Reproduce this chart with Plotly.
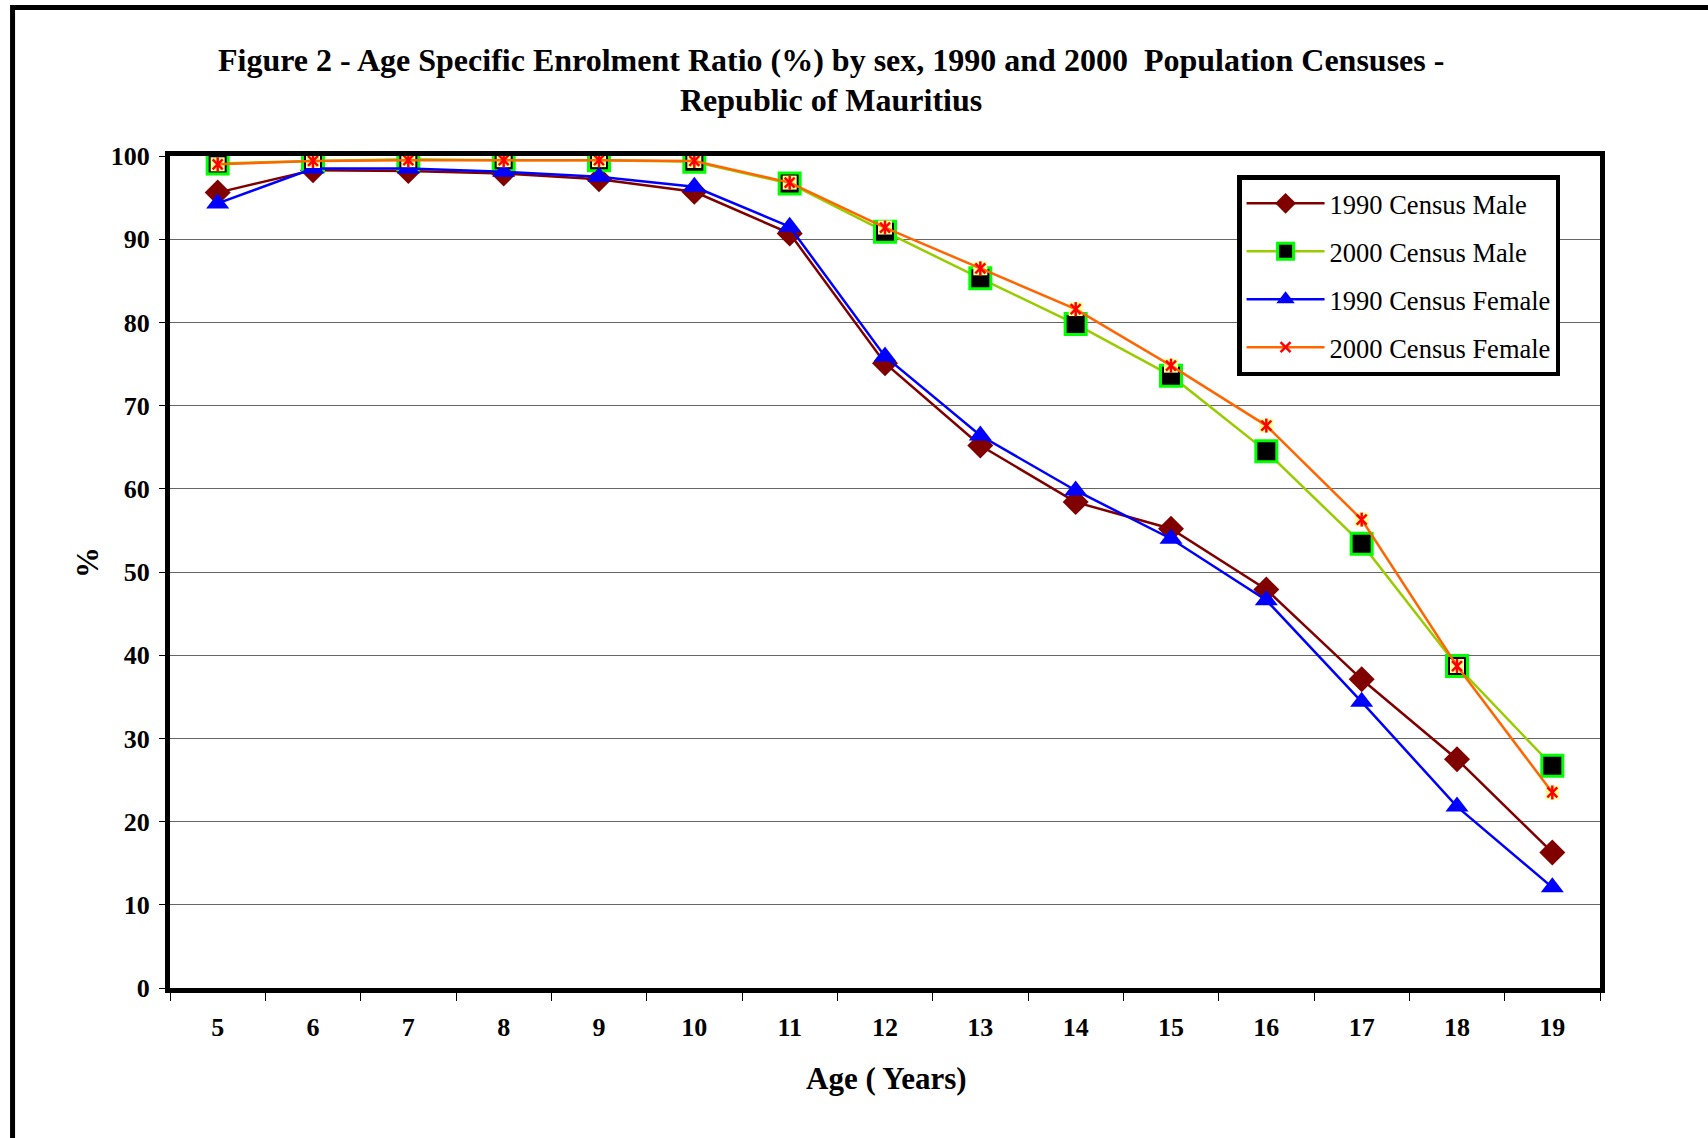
import plotly.graph_objects as go

# ---------------- data ----------------
ages = ["5", "6", "7", "8", "9", "10", "11", "12", "13", "14", "15", "16", "17", "18", "19"]
male_1990 = [95.6, 98.3, 98.2, 97.9, 97.2, 95.7, 90.7, 75.1, 65.2, 58.4, 55.2, 47.9, 37.1, 27.5, 16.3]
male_2000 = [99.1, 99.4, 99.6, 99.5, 99.5, 99.3, 96.7, 90.9, 85.3, 79.8, 73.6, 64.5, 53.4, 38.7, 26.7]
female_1990 = [94.3, 98.5, 98.5, 98.1, 97.5, 96.3, 91.5, 75.9, 66.4, 59.8, 54.0, 46.6, 34.4, 21.8, 12.1]
female_2000 = [99.0, 99.4, 99.5, 99.5, 99.5, 99.4, 96.8, 91.4, 86.5, 81.6, 74.8, 67.6, 56.3, 38.7, 23.5]

series_names = ["1990 Census Male", "2000 Census Male", "1990 Census Female", "2000 Census Female"]
title_line1 = "Figure 2 - Age Specific Enrolment Ratio (%) by sex, 1990 and 2000  Population Censuses -"
title_line2 = "Republic of Mauritius"
x_title = "Age ( Years)"
y_title = "%"

FONT = "Liberation Serif, Times New Roman, serif"

fig = go.Figure()

fig.add_trace(go.Scatter(
    x=ages, y=male_1990, name=series_names[0], mode="lines+markers", legendgroup="g1",
    line=dict(color="#800000", width=2.5),
    marker=dict(symbol="diamond", size=20, color="#800000", line=dict(width=0)),
))
fig.add_trace(go.Scatter(
    x=ages, y=male_2000, name=series_names[1], mode="lines+markers", legendgroup="g2",
    line=dict(color="#99CC00", width=2.5),
    marker=dict(symbol="square", size=21, color="#000000", line=dict(color="#00FF00", width=3)),
))
fig.add_trace(go.Scatter(
    x=ages, y=female_1990, name=series_names[2], mode="lines+markers", legendgroup="g3",
    line=dict(color="#0000FF", width=2.5),
    marker=dict(symbol="triangle-up", size=20, color="#0000FF", line=dict(width=0)),
))
# pale yellow box behind the asterisk markers
fig.add_trace(go.Scatter(
    x=ages, y=female_2000, mode="markers", legendgroup="g4", showlegend=False, hoverinfo="skip",
    marker=dict(symbol="square", size=14, color="#FFFF99", line=dict(width=0)),
))
fig.add_trace(go.Scatter(
    x=ages, y=female_2000, name=series_names[3], mode="lines+markers", legendgroup="g4",
    line=dict(color="#FF6600", width=2.5),
    marker=dict(symbol="x-thin-open", size=10, color="#FF0000", line=dict(color="#FF0000", width=2.5)),
))
fig.add_trace(go.Scatter(
    x=ages, y=female_2000, mode="markers", legendgroup="g4", showlegend=False, hoverinfo="skip",
    marker=dict(symbol="line-ns-open", size=10, color="#FF0000", line=dict(color="#FF0000", width=2.5)),
))

fig.update_layout(
    width=1708, height=1138,
    margin=dict(l=170, r=108, t=156, b=150, pad=0),
    paper_bgcolor="white", plot_bgcolor="white",
    font=dict(family=FONT, color="black"),
    showlegend=True,
    legend=dict(
        x=0.7462, y=0.9770, xanchor="left", yanchor="top",
        bgcolor="white", bordercolor="black", borderwidth=4.5,
        font=dict(family=FONT, size=26.5, color="black"),
        traceorder="grouped", tracegroupgap=10.5, itemwidth=78,
    ),
    xaxis=dict(
        type="category", range=[-0.5, 14.5], tickson="boundaries",
        ticks="outside", ticklen=8, tickwidth=1, tickcolor="black",
        showline=True, linecolor="black", linewidth=5, mirror=True,
        showgrid=False, zeroline=False,
        tickfont=dict(family=FONT, size=26, color="black", weight="bold"),
        ticklabelstandoff=12,
    ),
    yaxis=dict(
        range=[0, 100], tick0=0, dtick=10,
        ticks="outside", ticklen=6, tickwidth=1, tickcolor="black",
        showline=True, linecolor="black", linewidth=5, mirror=True,
        showgrid=True, gridcolor="#666666", gridwidth=1, zeroline=False,
        tickfont=dict(family=FONT, size=26, color="black", weight="bold"),
        ticklabelstandoff=4,
    ),
    annotations=[
        dict(text="<b>" + title_line1 + "</b>", xref="paper", yref="paper", x=0.4622, y=1.1150,
             xanchor="center", yanchor="middle", showarrow=False,
             font=dict(family=FONT, size=32, color="black")),
        dict(text="<b>" + title_line2 + "</b>", xref="paper", yref="paper", x=0.4622, y=1.0673,
             xanchor="center", yanchor="middle", showarrow=False,
             font=dict(family=FONT, size=32, color="black")),
        dict(text="<b>" + x_title + "</b>", xref="paper", yref="paper", x=0.5007, y=-0.1082,
             xanchor="center", yanchor="middle", showarrow=False,
             font=dict(family=FONT, size=31, color="black")),
        dict(text="<b>" + y_title + "</b>", xref="paper", yref="paper", x=-0.058, y=0.5108,
             xanchor="center", yanchor="middle", showarrow=False, textangle=-90,
             font=dict(family=FONT, size=31, color="black")),
    ],
    shapes=[
        dict(type="rect", xref="paper", yref="paper", x0=-0.1101, y0=-0.2067, x1=1.0909, y1=1.1785,
             line=dict(color="black", width=5), fillcolor="rgba(0,0,0,0)", layer="below"),
    ],
)

fig.write_html("out.html", config={"displayModeBar": False})
